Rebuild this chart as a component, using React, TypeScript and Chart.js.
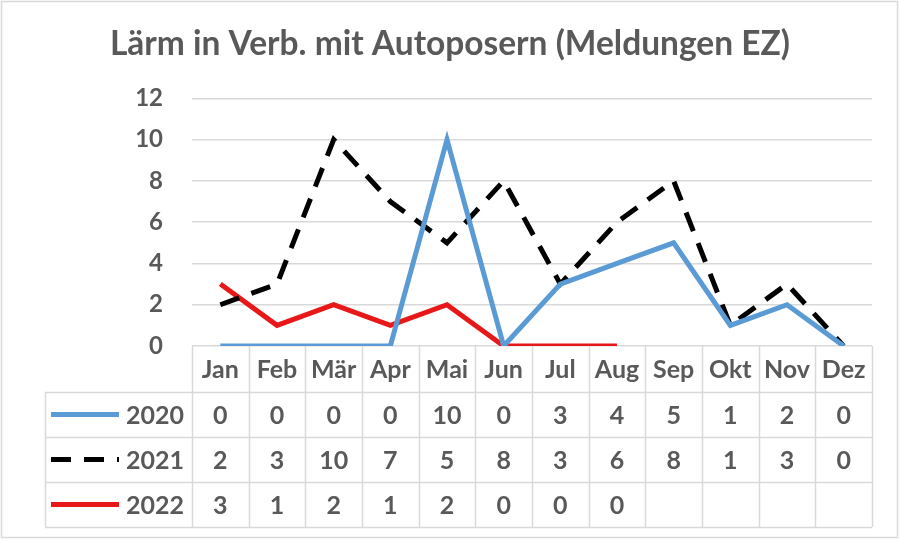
import React, { useEffect, useRef } from "react";
import { Chart, registerables } from "chart.js";

Chart.register(...registerables);

const TITLE = "Lärm in Verb. mit Autoposern (Meldungen EZ)";
const MONTHS = ["Jan", "Feb", "Mär", "Apr", "Mai", "Jun", "Jul", "Aug", "Sep", "Okt", "Nov", "Dez"];
const SERIES_NAMES = ["2020", "2021", "2022"];
const VALUES_2020: (number | null)[] = [0, 0, 0, 0, 10, 0, 3, 4, 5, 1, 2, 0];
const VALUES_2021: (number | null)[] = [2, 3, 10, 7, 5, 8, 3, 6, 8, 1, 3, 0];
const VALUES_2022: (number | null)[] = [3, 1, 2, 1, 2, 0, 0, 0, null, null, null, null];
const Y_MIN = 0;
const Y_MAX = 12;
const Y_STEP = 2;

const FONT = "Lato, 'Open Sans', sans-serif";
const TEXT = "#595959";
const GRID = "#d9d9d9";

const tablePlugin = {
  id: "dataTable",
  beforeDraw(chart: any) {
    const ctx = chart.ctx;
    ctx.save();
    ctx.fillStyle = "#ffffff";
    ctx.fillRect(0, 0, chart.width, chart.height);
    ctx.strokeStyle = GRID;
    ctx.lineWidth = 1.5;
    ctx.strokeRect(1.5, 1.5, chart.width - 4, chart.height - 5);
    ctx.restore();
  },
  beforeDatasetsDraw(chart: any) {
    const { ctx, chartArea } = chart;
    const x = chart.scales.x;
    const centers = MONTHS.map((_, i) => x.getPixelForValue(i));
    const half = (centers[1] - centers[0]) / 2;
    const left = centers[0] - half;
    const right = centers[centers.length - 1] + half;
    const top = chartArea.bottom;
    const headerH = 46;
    const rowH = 45;
    const headerBottom = top + headerH;
    const nRows = chart.data.datasets.length;
    const bottom = headerBottom + rowH * nRows;
    const tableLeft = 45;

    ctx.save();
    ctx.strokeStyle = GRID;
    ctx.lineWidth = 1.5;
    ctx.beginPath();
    for (let i = 0; i <= MONTHS.length; i++) {
      const px = Math.round(left + i * 2 * half) + 0.5;
      ctx.moveTo(px, top);
      ctx.lineTo(px, bottom);
    }
    for (let r = 0; r <= nRows; r++) {
      const py = Math.round(headerBottom + r * rowH) + 0.5;
      ctx.moveTo(tableLeft, py);
      ctx.lineTo(right, py);
    }
    ctx.moveTo(tableLeft + 0.5, headerBottom);
    ctx.lineTo(tableLeft + 0.5, bottom);
    ctx.stroke();

    ctx.fillStyle = TEXT;
    ctx.font = `bold 25px ${FONT}`;
    ctx.textAlign = "center";
    ctx.textBaseline = "middle";
    MONTHS.forEach((m, i) => ctx.fillText(m, centers[i], top + headerH / 2 + 1));

    chart.data.datasets.forEach((ds: any, r: number) => {
      const cy = headerBottom + r * rowH + rowH / 2 + 1;
      ctx.textAlign = "center";
      ds.data.forEach((v: number | null, i: number) => {
        if (v === null || v === undefined) return;
        ctx.fillText(String(v), centers[i], cy);
      });
      ctx.save();
      ctx.strokeStyle = ds.borderColor;
      ctx.lineWidth = ds.borderWidth;
      ctx.setLineDash(ds.borderDash || []);
      ctx.lineCap = "butt";
      ctx.beginPath();
      ctx.moveTo(51, cy - 1);
      ctx.lineTo(119, cy - 1);
      ctx.stroke();
      ctx.restore();
      ctx.textAlign = "right";
      ctx.fillText(ds.label, left - 8, cy);
    });
    ctx.restore();
  },
};

export default function App() {
  const ref = useRef<HTMLCanvasElement | null>(null);

  useEffect(() => {
    document.body.style.margin = "0";
    const canvas = ref.current;
    if (!canvas) return;
    const chart = new Chart(canvas, {
      type: "line",
      data: {
        labels: MONTHS,
        datasets: [
          {
            label: SERIES_NAMES[0],
            data: VALUES_2020,
            borderColor: "#5b9bd5",
            borderWidth: 5,
            pointRadius: 0,
            tension: 0,
          },
          {
            label: SERIES_NAMES[1],
            data: VALUES_2021,
            borderColor: "#000000",
            borderWidth: 5,
            borderDash: [20, 13],
            pointRadius: 0,
            tension: 0,
          },
          {
            label: SERIES_NAMES[2],
            data: VALUES_2022,
            borderColor: "#e81818",
            borderWidth: 5,
            pointRadius: 0,
            tension: 0,
          },
        ],
      },
      options: {
        responsive: false,
        animation: false,
        devicePixelRatio: 1,
        layout: { padding: { top: 10, left: 0, right: 0, bottom: 195 } },
        plugins: {
          legend: { display: false },
          tooltip: { enabled: false },
          title: {
            display: true,
            text: TITLE,
            color: TEXT,
            font: { family: FONT, size: 33.5, weight: "bold" },
            padding: { top: 14, bottom: 34.2 },
          },
        },
        scales: {
          x: {
            type: "category",
            display: false,
            offset: true,
          },
          y: {
            min: Y_MIN,
            max: Y_MAX,
            border: { display: false },
            grid: { color: GRID, lineWidth: 1.5, drawTicks: false },
            ticks: {
              stepSize: Y_STEP,
              color: TEXT,
              padding: 29,
              font: { family: FONT, size: 24, weight: "bold" },
            },
            afterFit(scale: any) {
              scale.width = 192;
            },
          },
          yRight: {
            position: "right",
            min: Y_MIN,
            max: Y_MAX,
            border: { display: false },
            grid: { display: false },
            ticks: { display: false },
            afterFit(scale: any) {
              scale.width = 28;
            },
          },
        },
      },
      plugins: [tablePlugin],
    });
    return () => chart.destroy();
  }, []);

  return <canvas ref={ref} width={900} height={541} style={{ display: "block" }} />;
}
